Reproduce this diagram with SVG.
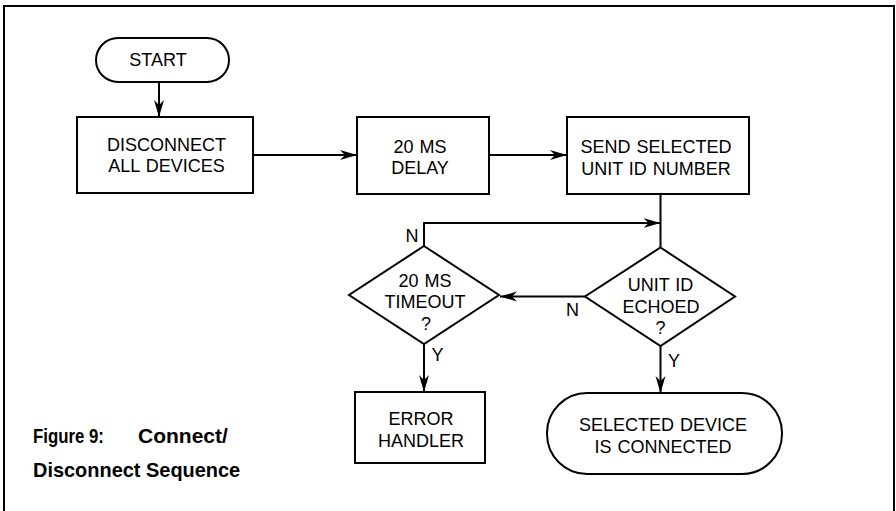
<svg xmlns="http://www.w3.org/2000/svg" width="896" height="511" viewBox="0 0 896 511">
<style>
.s{fill:#fff;stroke:#000;stroke-width:2}
.t{font-family:"Liberation Sans",Arial,sans-serif;font-size:18px;fill:#000;text-anchor:middle;word-spacing:1px}
.l{font-family:"Liberation Sans",Arial,sans-serif;font-size:18px;fill:#000;text-anchor:middle}
.c{font-family:"Liberation Sans",Arial,sans-serif;font-size:21px;font-weight:bold;fill:#000}
.w{fill:none;stroke:#000;stroke-width:2}
</style>
<defs>
<marker id="ah" markerUnits="userSpaceOnUse" markerWidth="20" markerHeight="12" refX="17" refY="6" orient="auto">
<path d="M0,1 L17,6 L0,11 L5,6 Z" fill="#000"/>
</marker>
</defs>
<rect width="896" height="511" fill="#fff"/>
<path d="M4,515 L4,6 L894,6 L894,515" class="w"/>
<g id="start">
<rect class="s" x="96" y="38" width="133" height="44" rx="22" ry="22"/>
<text class="t" x="158" y="66">START</text>
</g>
<g id="disconnect">
<rect class="s" x="77" y="117" width="176" height="76"/>
<text class="t" x="166.5" y="150.5">DISCONNECT</text>
<text class="t" x="166.5" y="172">ALL DEVICES</text>
</g>
<g id="delay">
<rect class="s" x="357" y="117" width="132" height="77"/>
<text class="t" x="420" y="153">20 MS</text>
<text class="t" x="420" y="174">DELAY</text>
</g>
<g id="send">
<rect class="s" x="567" y="117" width="182" height="77"/>
<text class="t" x="656" y="152.5">SEND SELECTED</text>
<text class="t" x="656" y="174.5">UNIT ID NUMBER</text>
</g>
<g id="timeout">
<polygon class="s" points="424,246 499,295 424,344 349,295"/>
<text class="t" x="425" y="287">20 MS</text>
<text class="t" x="425" y="308">TIMEOUT</text>
<text class="t" x="426" y="330">?</text>
</g>
<g id="echoed">
<polygon class="s" points="660.5,247.5 735,296.5 660.5,346 585,296.5"/>
<text class="t" x="660.5" y="290.5">UNIT ID</text>
<text class="t" x="661" y="312.5">ECHOED</text>
<text class="t" x="660.5" y="334">?</text>
</g>
<g id="error">
<rect class="s" x="355" y="392" width="130" height="71"/>
<text class="t" x="421" y="425">ERROR</text>
<text class="t" x="421" y="446.5">HANDLER</text>
</g>
<g id="connected">
<rect class="s" x="547" y="393" width="235" height="81" rx="40" ry="40"/>
<text class="t" x="663" y="431">SELECTED DEVICE</text>
<text class="t" x="663" y="453">IS CONNECTED</text>
</g>
<g id="connectors">
<line class="w" x1="159" y1="82" x2="159" y2="117" marker-end="url(#ah)"/>
<line class="w" x1="253" y1="155" x2="357" y2="155" marker-end="url(#ah)"/>
<line class="w" x1="489" y1="155" x2="567" y2="155" marker-end="url(#ah)"/>
<line class="w" x1="660.5" y1="194" x2="660.5" y2="247.5"/>
<path class="w" d="M424,246 L424,223 L660.5,223" marker-end="url(#ah)"/>
<line class="w" x1="585" y1="296.5" x2="500" y2="296.5" marker-end="url(#ah)"/>
<line class="w" x1="424" y1="344" x2="424" y2="392" marker-end="url(#ah)"/>
<line class="w" x1="660.5" y1="346" x2="660.5" y2="393" marker-end="url(#ah)"/>
<text class="l" x="412" y="242">N</text>
<text class="l" x="572.5" y="316">N</text>
<text class="l" x="437.5" y="361">Y</text>
<text class="l" x="674" y="367">Y</text>
</g>
<g id="caption">
<text class="c" transform="translate(33,443) scale(0.8,1)">Figure 9:</text>
<text class="c" transform="translate(138,443) scale(1,1)">Connect/</text>
<text class="c" transform="translate(33,477) scale(0.95,1)">Disconnect Sequence</text>
</g>
</svg>
